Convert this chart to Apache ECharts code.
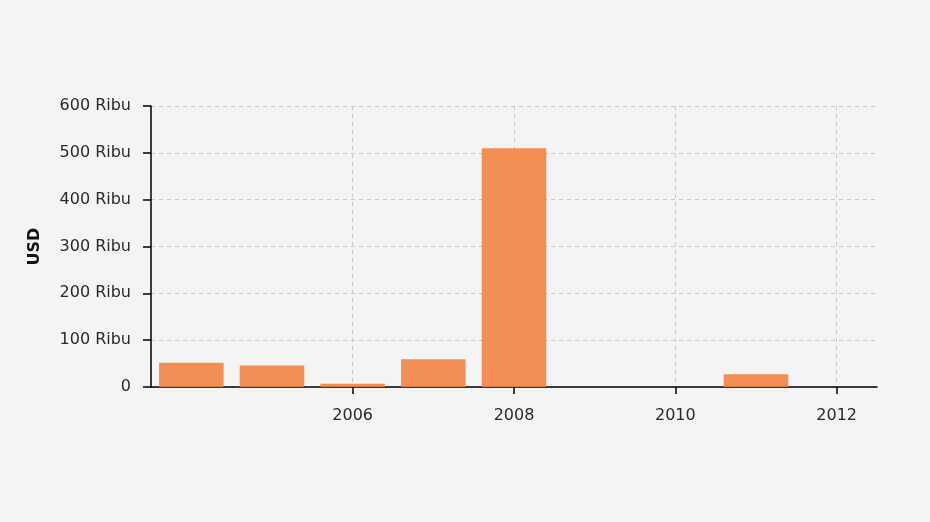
<!DOCTYPE html>
<html><head><meta charset="utf-8">
<script src="https://cdn.jsdelivr.net/npm/echarts@6/dist/echarts.min.js"></script>
<style>html,body{margin:0;padding:0;background:#f4f4f4}#c{width:930px;height:522px}</style>
</head><body><div id="c"></div>
<script>
const years = ['2004','2005','2006','2007','2008','2009','2010','2011','2012'];
const values = [52000, 46000, 7000, 59000, 510000, 0, 0, 27000, 0];
const shownYears = ['2006','2008','2010','2012'];
const yTicks = [0, 100000, 200000, 300000, 400000, 500000, 600000];
const yName = 'USD';

const chart = echarts.init(document.getElementById('c'));
const font = 'DejaVu Sans';
const showIdx = (i) => shownYears.indexOf(years[i]) >= 0;
chart.setOption({
  backgroundColor: '#f4f4f4',
  animation: false,
  grid: {left: 151, right: 53, top: 106, bottom: 135},
  xAxis: {
    type: 'category', data: years, boundaryGap: true,
    axisLine: {lineStyle: {color: '#000', width: 1.5}},
    axisTick: {show: true, alignWithLabel: true, length: 7, interval: (i) => showIdx(i), lineStyle: {color: '#000', width: 1.5}},
    axisLabel: {interval: (i) => showIdx(i), margin: 21, color: '#2a2a2a', fontFamily: font, fontSize: 16},
    splitLine: {show: true, alignWithLabel: true, interval: (i) => showIdx(i), lineStyle: {color: '#c8c8c8', type: [4, 4], width: 1}}
  },
  yAxis: {
    type: 'value', min: yTicks[0], max: yTicks[yTicks.length - 1], interval: 100000,
    name: yName, nameLocation: 'middle', nameGap: 108, nameRotate: 90,
    nameTextStyle: {fontFamily: font, fontSize: 16, fontWeight: 'bold', color: '#111'},
    axisLine: {show: true, lineStyle: {color: '#000', width: 1.5}},
    axisTick: {show: true, length: 8, lineStyle: {color: '#000', width: 1.5}},
    axisLabel: {margin: 20, color: '#2a2a2a', fontFamily: font, fontSize: 16,
      formatter: (v) => v === 0 ? '0' : (v / 1000) + ' Ribu'},
    splitLine: {show: true, lineStyle: {color: '#c8c8c8', type: [4, 4], width: 1}}
  },
  series: [{
    type: 'bar', data: values, barCategoryGap: '20%',
    itemStyle: {color: '#f37f3d', opacity: 0.88, borderWidth: 0}
  }]
});
</script></body></html>
